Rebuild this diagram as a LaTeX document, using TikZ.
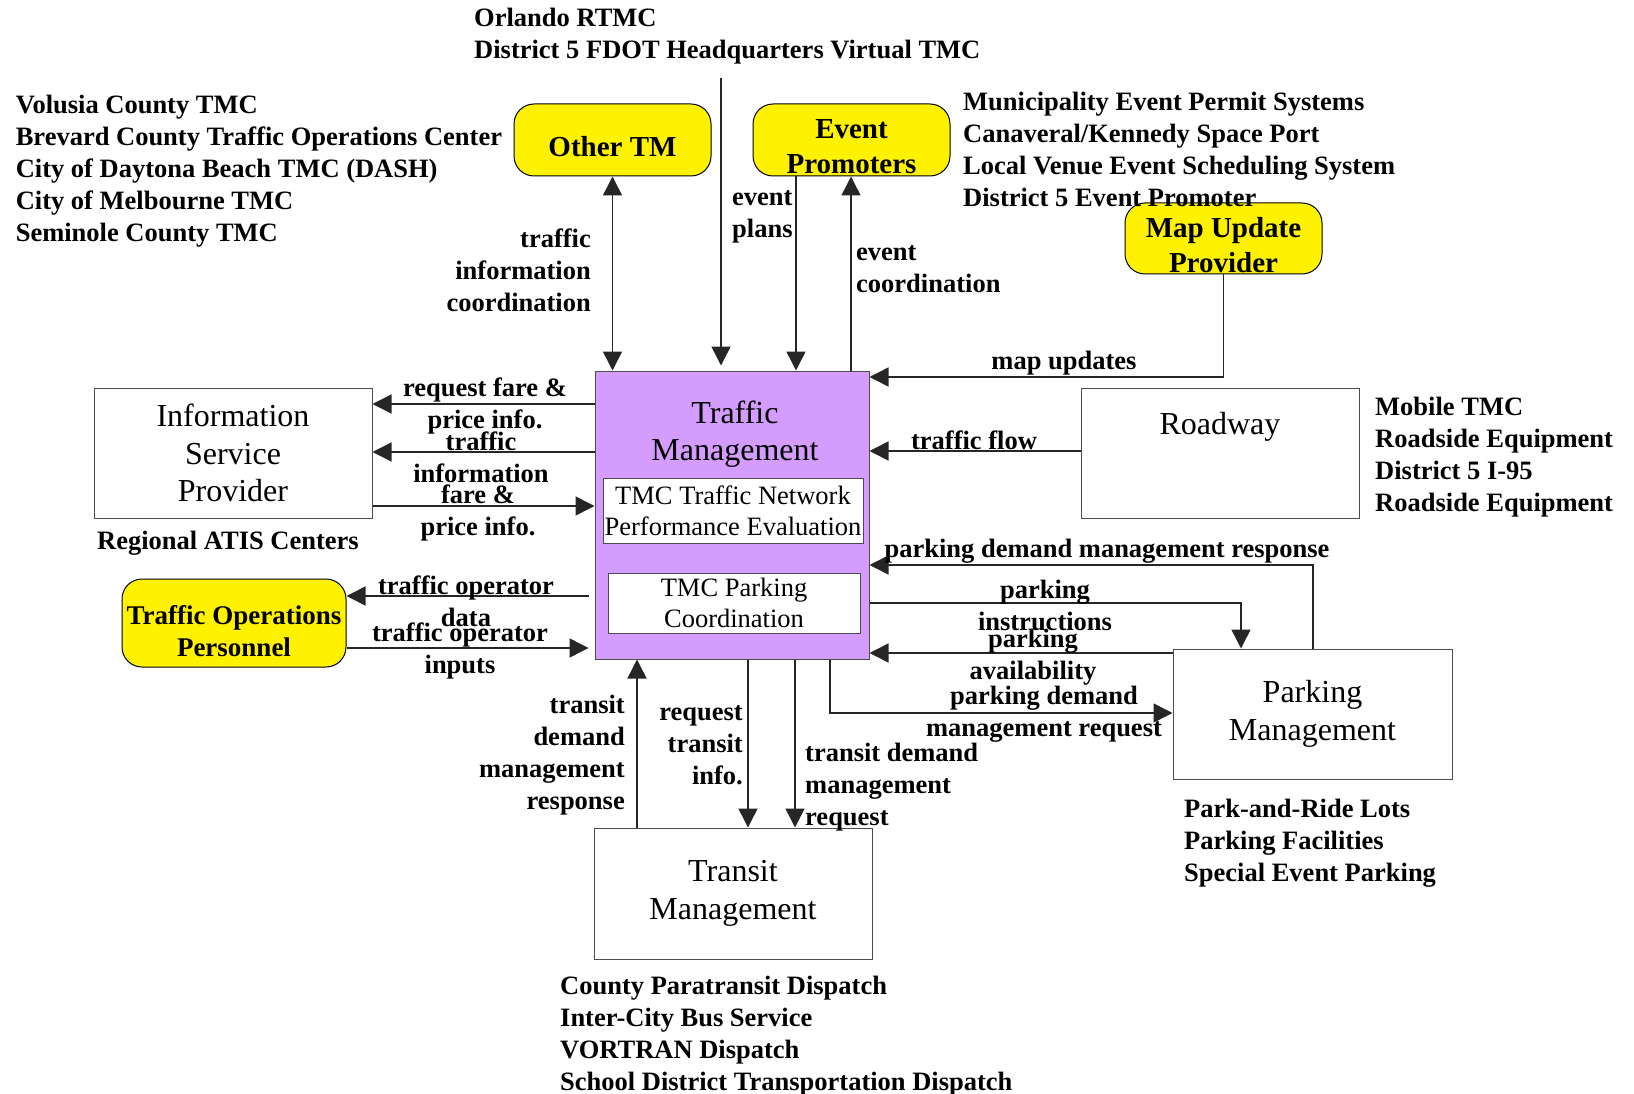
\documentclass[tikz,border=0pt]{standalone}
\usepackage{fontspec}
\setmainfont{Liberation Serif}
\usetikzlibrary{arrows.meta, positioning, calc}

\definecolor{tmpurple}{RGB}{212,156,252}
\newcommand{\lblfont}{\fontsize{26.5}{32}\selectfont\bfseries}
\newcommand{\boxfont}{\fontsize{32}{37.5}\selectfont}
\newcommand{\subfont}{\fontsize{26.5}{31}\selectfont}
\newcommand{\ybfont}{\fontsize{29}{35}\selectfont\bfseries}

\begin{document}
\begin{tikzpicture}[x=1pt, y=-1pt,
    box/.style={draw=black!70, line width=1pt, inner sep=0pt, align=center, font=\boxfont},
    ybox/.style={draw, fill=yellow, rounded corners=20pt, line width=1pt, inner sep=0pt},
    ytext/.style={font=\ybfont, align=center, inner sep=0pt, yshift=-7pt},
    lbl/.style={font=\lblfont, align=center, inner sep=0pt},
    flow/.style={line width=1.5pt, black!85, -{Triangle[length=19pt,width=19pt]}},
    bflow/.style={flow, {Triangle[length=19pt,width=19pt]}-{Triangle[length=19pt,width=19pt]}}]
  \useasboundingbox (0,0) rectangle (1634,1094);

  % central terminator
  \node[box, fill=tmpurple, minimum width=274pt, minimum height=288pt] (tm) at (732,515) {};
  \node[font=\boxfont, align=center, inner sep=0pt] (tmtitle) at (735,434) {Traffic\\Management};
  \node[box, fill=white, font=\subfont, minimum width=260pt, minimum height=65pt] (tmnet) at (733,510.5)
    {TMC Traffic Network\\Performance Evaluation};
  \node[box, fill=white, font=\subfont, minimum width=252pt, minimum height=60pt] (tmpark) at (734,603)
    {TMC Parking\\Coordination};

  % surrounding terminators
  \node[ybox, minimum width=197pt, minimum height=72pt,
        label={[ytext]center:Other TM}] (othertm) at (612.5,140) {};
  \node[ybox, minimum width=197pt, minimum height=72pt,
        label={[ytext]center:Event\\Promoters}] (evprom) at (851.5,140) {};
  \node[ybox, minimum width=224pt, minimum height=88pt,
        label={[ytext, font=\fontsize{27}{32}\selectfont\bfseries, yshift=-1pt]center:Traffic Operations\\Personnel}] (ops) at (234,623) {};
  \node[ybox, minimum width=197pt, minimum height=71pt,
        label={[ytext]center:Map Update\\Provider}] (mapup) at (1223.5,238.5) {};
  \node[box, minimum width=278pt, minimum height=130pt] (isp) at (233,453) {Information\\Service\\Provider};
  \node[box, minimum width=278pt, minimum height=130pt] (roadway) at (1220,453) {};
  \node[font=\boxfont, inner sep=0pt] (roadtxt) at (1220,427) {Roadway};
  \node[box, minimum width=279pt, minimum height=130pt] (parking) at (1312.5,714) {Parking\\Management};
  \node[box, minimum width=278pt, minimum height=131pt] (transit) at (733,893.5) {Transit\\Management};
  \coordinate (rtmc) at (721,78);

  % element lists
  \node[lbl, align=left, anchor=west] (toplist) at (474,36)
    {Orlando RTMC\\District 5 FDOT Headquarters Virtual TMC};
  \node[lbl, align=left, anchor=west] (leftlist) at (15.6,171)
    {Volusia County TMC\\Brevard County Traffic Operations Center\\City of Daytona Beach TMC (DASH)\\City of Melbourne TMC\\Seminole County TMC};
  \node[lbl, align=left, anchor=west] (evlist) at (963,149)
    {Municipality Event Permit Systems\\Canaveral/Kennedy Space Port\\Local Venue Event Scheduling System\\District 5 Event Promoter};
  \node[lbl, align=left, anchor=west] (roadlist) at (1375,457)
    {Mobile TMC\\Roadside Equipment\\District 5 I-95\\Roadside Equipment};
  \node[lbl] (isplist) at (228,543) {Regional ATIS Centers};
  \node[lbl, align=left, anchor=west] (parklist) at (1184,843)
    {Park-and-Ride Lots\\Parking Facilities\\Special Event Parking};
  \node[lbl, align=left, anchor=west] (translist) at (560,1036)
    {County Paratransit Dispatch\\Inter-City Bus Service\\VORTRAN Dispatch\\School District Transportation Dispatch};

  % flows to the north
  \draw[bflow] (othertm.south) -- (tm.north -| othertm.south);
  \node[lbl, align=right, anchor=east] at (591,270) {traffic\\information\\coordination};
  \draw[flow, shorten >=5pt] (rtmc) -- (tm.north -| rtmc);
  \draw[flow] (evprom.south -| 796,0) -- (tm.north -| 796,0);
  \node[lbl, align=left, anchor=west] at (732,217) {event\\plans};
  \draw[flow] (tm.north -| 851,0) -- (evprom.south -| 851,0);
  \node[lbl, align=left, anchor=west] at (856,269) {event\\coordination};
  \draw[flow] (mapup.south) |- (tm.east |- 0,377);
  \node[lbl] at (1064,363) {map updates};
  \draw[flow] (roadway.west |- 0,451) -- (tm.east |- 0,451);
  \node[lbl] at (974,440) {traffic flow};

  % flows to the west
  \draw[flow] (tm.west |- 0,404) -- (isp.east |- 0,404);
  \node[lbl] at (485,406) {request fare \&\\price info.};
  \draw[flow] (tm.west |- 0,452) -- (isp.east |- 0,452);
  \node[lbl] at (481,457) {traffic\\information};
  \draw[flow] (isp.east |- 0,506) -- (tm.west |- 0,506);
  \node[lbl] at (478,513) {fare \&\\price info.};
  \draw[flow, shorten <=6pt] (tm.west |- 0,596) -- (ops.east |- 0,596);
  \node[lbl] at (466,601) {traffic operator\\data};
  \draw[flow, shorten >=6pt] (ops.east |- 0,648) -- (tm.west |- 0,648);
  \node[lbl] at (460,651) {traffic operator\\inputs};

  % flows to parking
  \draw[flow] (parking.north -| 1313,0) |- (tm.east |- 0,565);
  \node[lbl] at (1107,551) {parking demand management response};
  \draw[flow] (tm.east |- 0,603) -| (parking.north -| 1241,0);
  \node[lbl] at (1045,605) {parking\\instructions};
  \draw[flow] (parking.west |- 0,653) -- (tm.east |- 0,653);
  \node[lbl] at (1033,657) {parking\\availability};
  \draw[flow] (tm.south -| 830,0) |- (parking.west |- 0,713);
  \node[lbl] at (1044,714) {parking demand\\management request};

  % flows to transit
  \draw[flow] (transit.north -| 637,0) -- (tm.south -| 637,0);
  \node[lbl, align=right, anchor=east] at (625,755) {transit\\demand\\management\\response};
  \draw[flow] (tm.south -| 748,0) -- (transit.north -| 748,0);
  \node[lbl, align=right, anchor=east] at (743,745) {request\\transit\\info.};
  \draw[flow] (tm.south -| 795,0) -- (transit.north -| 795,0);
  \node[lbl, align=left, anchor=west] at (805,787) {transit demand\\management\\request};
\end{tikzpicture}
\end{document}
